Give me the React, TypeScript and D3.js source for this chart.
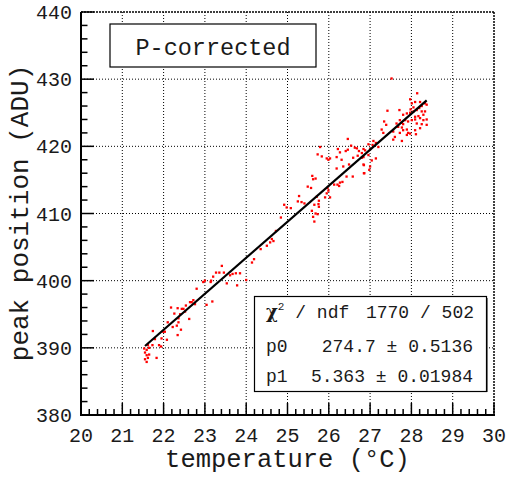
import React from 'react';
import * as d3 from 'd3';

const temperature = [
  23.20, 23.00, 22.96, 23.15, 22.80, 23.18, 23.04, 22.72, 22.68, 22.64, 22.76, 22.54, 22.48, 22.44, 22.34, 22.18,
  22.52, 22.40, 22.26, 22.62, 22.36, 22.36, 22.22, 22.42, 22.32, 22.34, 22.10, 22.03, 21.99, 21.74, 21.95, 22.08,
  21.79, 21.89, 21.73, 21.94, 21.83, 21.62, 21.59, 21.55, 21.59, 21.62, 21.55, 21.59, 21.65, 21.65, 21.53,
  24.92, 24.98, 24.84, 24.72, 24.66, 24.62, 24.58, 24.50, 24.35, 24.19, 24.14, 23.41, 23.27, 23.35, 23.46, 23.61,
  23.53, 23.67, 23.75, 23.85, 23.14, 23.78, 24.00,
  26.46, 25.79, 25.83, 25.73, 26.22, 26.27, 26.41, 26.46, 26.54, 26.63, 26.68, 26.73, 26.84, 26.70, 26.59, 26.80,
  25.95, 25.99, 26.03, 26.19, 26.31, 26.49, 26.84, 26.19, 26.35, 26.86, 26.43, 26.58, 25.60, 25.68, 25.62, 25.49,
  25.57, 26.21, 26.27, 26.33, 26.13, 26.25, 25.97, 25.99, 25.95, 26.03, 25.91, 25.28, 25.25, 25.34, 25.41, 25.76,
  25.65, 25.75, 25.76, 25.08, 25.59, 25.62, 25.68, 25.73, 25.65, 25.71,
  27.52, 28.14, 27.97, 28.01, 28.09, 28.21, 28.33, 28.37, 28.25, 28.05, 27.42, 27.71, 27.80, 27.89, 27.97, 27.98,
  28.05, 28.13, 28.19, 28.25, 28.33, 28.29, 28.17, 28.09, 27.72, 27.77, 27.80, 27.85, 27.92, 28.01, 28.09, 28.21,
  28.29, 28.37, 28.13, 28.25, 28.37, 28.21, 28.09, 27.34, 27.39, 27.28, 27.32, 27.64, 27.68, 27.77, 27.80, 27.89,
  27.92, 27.72, 27.56, 27.60, 27.89, 27.97, 28.11, 27.56, 27.77, 27.08, 27.14, 26.96, 27.06, 27.20, 27.00, 26.88,
  26.80, 26.96, 26.84, 27.14, 27.04, 26.85, 27.00, 26.98, 26.85,
];
const peak = [
  400.6, 400.0, 399.8, 400.0, 398.8, 396.9, 396.4, 397.1, 396.8, 396.8, 396.5, 396.3, 395.8, 395.8, 395.9, 396.0,
  395.4, 395.0, 395.1, 394.3, 394.4, 393.8, 393.1, 392.7, 393.3, 391.9, 393.8, 392.4, 392.4, 392.5, 391.4, 391.2,
  391.3, 390.4, 390.4, 390.2, 388.5, 390.4, 389.7, 389.3, 388.9, 388.5, 388.3, 387.9, 389.0, 390.0, 389.9,
  411.3, 410.9, 409.4, 407.4, 405.9, 406.2, 405.7, 405.2, 404.7, 403.2, 402.7, 402.2, 401.2, 401.2, 401.2, 400.8,
  399.6, 401.0, 401.1, 401.1, 399.8, 399.3, 400.1,
  421.1, 419.9, 418.5, 418.8, 419.6, 419.1, 419.3, 419.5, 420.1, 419.8, 419.7, 419.3, 419.6, 418.6, 418.3, 418.3,
  418.2, 418.0, 418.2, 418.4, 418.0, 417.3, 417.3, 416.7, 417.0, 416.0, 415.5, 415.5, 415.6, 415.2, 415.1, 414.0,
  413.8, 414.3, 414.6, 414.7, 414.3, 414.1, 413.8, 413.4, 413.0, 412.4, 412.4, 412.6, 411.8, 411.7, 411.5, 411.9,
  411.3, 411.4, 411.0, 410.8, 410.4, 409.5, 410.0, 409.9, 408.8, 412.5,
  430.1, 427.9, 427.0, 426.4, 426.6, 426.6, 426.4, 426.2, 426.0, 425.8, 425.3, 425.4, 424.7, 424.9, 425.0, 425.5,
  425.2, 425.4, 425.7, 425.2, 425.2, 424.7, 424.5, 424.4, 423.9, 423.5, 423.3, 423.9, 423.7, 423.9, 424.0, 424.2,
  423.9, 424.0, 423.4, 423.3, 423.2, 422.7, 422.4, 423.7, 423.2, 422.5, 422.0, 423.4, 422.9, 422.8, 422.4, 422.5,
  422.0, 422.0, 422.2, 421.4, 421.7, 421.9, 421.8, 421.0, 420.8, 420.8, 420.5, 420.3, 420.2, 419.9, 419.6, 419.4,
  419.0, 418.7, 418.4, 418.2, 417.9, 417.2, 417.0, 416.5, 416.0,
];

const fitParams = [274.7, 5.363];
const fitRange = [21.55, 28.37];
const xDomain = [20, 30];
const yDomain = [380, 440];
const xTickLabels = ['20', '21', '22', '23', '24', '25', '26', '27', '28', '29', '30'];
const yTickLabels = ['380', '390', '400', '410', '420', '430', '440'];
const statsLabels = ['p0', 'p1'];
const statsValues = ['274.7 \u00b1 0.5136', '5.363 \u00b1 0.01984'];
const chi2Value = '1770 / 502';
const titleText = 'P-corrected';
const xTitle = 'temperature (\u00b0C)';
const yTitle = 'peak position (ADU)';

const W = 508;
const H = 477;
const L = 81, R = 494, T = 12, B = 415;
const FONT = '"Liberation Mono", "DejaVu Sans Mono", monospace';

export default function App() {
  const x = d3.scaleLinear().domain(xDomain).range([L, R]);
  const y = d3.scaleLinear().domain(yDomain).range([B, T]);
  const xMajor = xTickLabels.map(Number);
  const yMajor = yTickLabels.map(Number);
  const xMinor = d3.range(xDomain[0], xDomain[1] + 0.001, 0.2).filter((v) => Math.abs(v - Math.round(v)) > 0.01);
  const yMinor = d3.range(yDomain[0], yDomain[1] + 0.001, 2).filter((v) => v % 10 !== 0);
  const line = d3.line<number>().x((t) => x(t)).y((t) => y(fitParams[0] + fitParams[1] * t));
  const pts = temperature.map((t, i) => [t, peak[i]]);
  const s = 2.3;
  const txt = '#1a1a1a';

  return (
    <svg width={W} height={H} style={{ position: 'absolute', left: 0, top: 0, background: '#fff' }} fontFamily={FONT}>
      <rect x={0} y={0} width={W} height={H} fill="#fff" />
      {/* grid */}
      {xMajor.filter((v) => v > xDomain[0] && v < xDomain[1]).map((v) => (
        <line key={'gx' + v} x1={x(v)} x2={x(v)} y1={T} y2={B} stroke="#000" strokeWidth={1} strokeDasharray="1,2" />
      ))}
      {yMajor.filter((v) => v > yDomain[0] && v < yDomain[1]).map((v) => (
        <line key={'gy' + v} x1={L} x2={R} y1={y(v)} y2={y(v)} stroke="#000" strokeWidth={1} strokeDasharray="1,2" />
      ))}
      {/* frame top/right */}
      <line x1={L} x2={R} y1={T} y2={T} stroke="#000" strokeWidth={1.5} strokeDasharray="2,1" />
      <line x1={R} x2={R} y1={T} y2={B} stroke="#000" strokeWidth={1.5} strokeDasharray="2,1" />
      {/* axes */}
      <line x1={L} x2={L} y1={T} y2={B + 1} stroke="#000" strokeWidth={2} />
      <line x1={L - 1} x2={R + 1} y1={B} y2={B} stroke="#000" strokeWidth={2} />
      {xMajor.map((v) => (
        <line key={'xt' + v} x1={x(v)} x2={x(v)} y1={B} y2={B - 12} stroke="#000" strokeWidth={1.5} />
      ))}
      {xMinor.map((v) => (
        <line key={'xm' + v} x1={x(v)} x2={x(v)} y1={B} y2={B - 6} stroke="#000" strokeWidth={1.5} />
      ))}
      {yMajor.map((v) => (
        <line key={'yt' + v} x1={L} x2={L + 13} y1={y(v)} y2={y(v)} stroke="#000" strokeWidth={1.5} />
      ))}
      {yMinor.map((v) => (
        <line key={'ym' + v} x1={L} x2={L + 6.5} y1={y(v)} y2={y(v)} stroke="#000" strokeWidth={1.5} />
      ))}
      {xTickLabels.map((lab, i) => (
        <text key={'xl' + lab} x={x(xMajor[i])} y={442} fontSize={20} textAnchor="middle" fill={txt}>{lab}</text>
      ))}
      {yTickLabels.map((lab, i) => (
        <text key={'yl' + lab} x={72} y={y(yMajor[i]) + 7} fontSize={20} textAnchor="end" fill={txt}>{lab}</text>
      ))}
      <text x={(L + R) / 2} y={467} fontSize={25.5} textAnchor="middle" fill={txt}>{xTitle}</text>
      <text transform="translate(28,213) rotate(-90)" fontSize={26} textAnchor="middle" fill={txt}>{yTitle}</text>
      {/* points */}
      {pts.map(([t, p], i) => (
        <rect key={'p' + i} x={x(t) - s / 2} y={y(p) - s / 2} width={s} height={s} fill="#ff0000" />
      ))}
      {/* fit */}
      <path d={line(fitRange) || ''} fill="none" stroke="#000" strokeWidth={2.2} />
      {/* title box */}
      <rect x={110} y={24} width={206} height={43} fill="#fff" stroke="#000" strokeWidth={1.2} />
      <text x={213} y={54.5} fontSize={23.5} textAnchor="middle" fill={txt}>{titleText}</text>
      {/* stats box */}
      <rect x={254.5} y={296.5} width={232} height={95} fill="#fff" stroke="#000" strokeWidth={1.2} />
      <line x1={487} x2={487} y1={298} y2={392} stroke="#000" strokeWidth={1} />
      <text x={266} y={318} fontSize={18} fill={txt}>
        <tspan fontWeight="bold" fontFamily='"DejaVu Serif", serif'>{'\u03c7'}</tspan>
        <tspan fontSize={11} dy={-8}>2</tspan>
        <tspan dy={8}>{' / ndf'}</tspan>
      </text>
      <text x={474} y={318} fontSize={18} textAnchor="end" fill={txt}>{chi2Value}</text>
      {statsLabels.map((lab, i) => (
        <g key={lab}>
          <text x={266} y={352 + i * 30} fontSize={18} fill={txt}>{lab}</text>
          <text x={473} y={352 + i * 30} fontSize={18} textAnchor="end" fill={txt}>{statsValues[i]}</text>
        </g>
      ))}
    </svg>
  );
}
